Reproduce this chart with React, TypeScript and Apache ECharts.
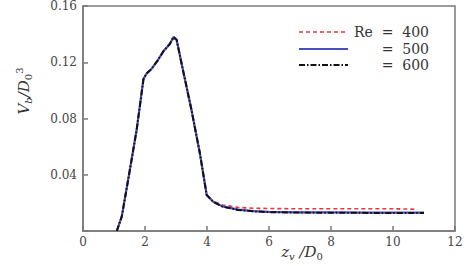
import React, { useEffect, useRef } from "react";
import * as echarts from "echarts";

const xCurve = [1.09, 1.25, 1.5, 1.73, 1.95, 2.05, 2.2, 2.4, 2.6, 2.8, 2.92, 3.02, 3.2, 3.5, 3.77, 3.99, 4.2, 4.5, 5, 5.5, 6, 7, 8, 9, 10, 10.7, 11];
const yRe400 = [0, 0.0102, 0.042, 0.0718, 0.108, 0.112, 0.115, 0.121, 0.128, 0.133, 0.137, 0.136, 0.117, 0.086, 0.0553, 0.0256, 0.0212, 0.0185, 0.0168, 0.0162, 0.016, 0.0158, 0.0158, 0.0158, 0.0158, 0.0155, null];
const yRe500 = [0, 0.0102, 0.042, 0.0718, 0.108, 0.112, 0.115, 0.121, 0.128, 0.133, 0.138, 0.136, 0.117, 0.086, 0.0553, 0.0256, 0.0208, 0.0175, 0.0152, 0.0142, 0.0136, 0.0133, 0.0132, 0.0131, 0.013, 0.013, 0.013];
const yRe600 = [0, 0.0102, 0.042, 0.0718, 0.108, 0.112, 0.115, 0.121, 0.128, 0.133, 0.138, 0.136, 0.117, 0.086, 0.0553, 0.0256, 0.0208, 0.0173, 0.015, 0.014, 0.0134, 0.0131, 0.013, 0.0129, 0.0128, 0.0128, 0.0128];
const xTicks = [0, 2, 4, 6, 8, 10, 12];
const yTicks = [0, 0.04, 0.08, 0.12, 0.16];
const legendLabels = ["Re  =  400", "=  500", "=  600"];

const serif = "DejaVu Serif";

export default function App() {
  const ref = useRef<HTMLDivElement>(null);
  useEffect(() => {
    if (!ref.current) return;
    const chart = echarts.init(ref.current, null, { renderer: "svg" });
    const pair = (ys: (number | null)[]) => xCurve.map((x, i) => [x, ys[i]]);
    const axisColor = "#7a7a7a";
    const labelColor = "#444";
    chart.setOption({
      animation: false,
      backgroundColor: "#fff",
      textStyle: { fontFamily: serif },
      grid: { left: 83, top: 6, right: 21, bottom: 35 },
      xAxis: {
        type: "value",
        min: xTicks[0],
        max: xTicks[xTicks.length - 1],
        interval: 2,
        axisLine: { show: true, lineStyle: { color: axisColor, width: 1.5 } },
        axisTick: { show: true, inside: true, length: 5, lineStyle: { color: axisColor, width: 1.5 } },
        axisLabel: { color: labelColor, fontFamily: serif, fontSize: 12, margin: 5, formatter: (v: number) => String(v) },
        splitLine: { show: false },
      },
      yAxis: {
        type: "value",
        min: yTicks[0],
        max: yTicks[yTicks.length - 1],
        interval: 0.04,
        axisLine: { show: true, lineStyle: { color: axisColor, width: 1.5 } },
        axisTick: { show: true, inside: true, length: 5, lineStyle: { color: axisColor, width: 1.5 } },
        axisLabel: {
          color: labelColor,
          fontFamily: serif,
          fontSize: 12,
          margin: 6,
          formatter: (v: number) => (v === 0 ? "" : v.toFixed(2)),
        },
        splitLine: { show: false },
      },
      series: [
        {
          type: "line",
          name: "400",
          data: pair(yRe400),
          showSymbol: false,
          lineStyle: { color: "#e0393e", width: 1.6, type: [4, 3] },
          z: 2,
        },
        {
          type: "line",
          name: "500",
          data: pair(yRe500),
          showSymbol: false,
          lineStyle: { color: "#4a4fc0", width: 2.2, type: "solid" },
          z: 3,
        },
        {
          type: "line",
          name: "600",
          data: pair(yRe600),
          showSymbol: false,
          lineStyle: { color: "#111", width: 2, type: [6, 2, 1.5, 2] },
          z: 4,
        },
      ],
      graphic: [
        { type: "rect", shape: { x: 83, y: 6, width: 372, height: 225 }, style: { fill: "none", stroke: axisColor, lineWidth: 1.5 }, silent: true, z: 1 },
        { type: "line", shape: { x1: 299, y1: 32, x2: 348, y2: 32 }, style: { stroke: "#e0393e", lineWidth: 1.6, lineDash: [4, 3] } },
        { type: "line", shape: { x1: 299, y1: 49, x2: 348, y2: 49 }, style: { stroke: "#4a4fc0", lineWidth: 2.2 } },
        { type: "line", shape: { x1: 299, y1: 65, x2: 348, y2: 65 }, style: { stroke: "#111", lineWidth: 1.8, lineDash: [6, 2, 1.5, 2] } },
        ...legendLabels.map((t, i) => ({
          type: "text",
          x: 429,
          y: [32, 49, 65][i],
          style: { text: t, fill: "#333", fontFamily: serif, fontSize: 14, align: "right", verticalAlign: "middle" },
        })),
        {
          type: "text",
          x: 24,
          y: 91,
          rotation: Math.PI / 2,
          style: {
            text: "{i|V}{s|b}{i|/D}{n|0}{p|3}",
            align: "center",
            verticalAlign: "middle",
            fill: "#333",
            fontFamily: serif,
            rich: {
              i: { fontFamily: serif, fontStyle: "italic", fontSize: 15, fill: "#333" },
              s: { fontFamily: serif, fontStyle: "italic", fontSize: 10, fill: "#333", padding: [8, 0, 0, 0] },
              n: { fontFamily: serif, fontSize: 10, fill: "#333", padding: [8, 0, 0, 0] },
              p: { fontFamily: serif, fontSize: 10, fill: "#333", padding: [0, 0, 10, 0] },
            },
          },
        },
        {
          type: "text",
          x: 302,
          y: 252,
          style: {
            text: "{i|z}{s|v}{i| /D}{n|0}",
            align: "center",
            verticalAlign: "middle",
            fill: "#333",
            fontFamily: serif,
            rich: {
              i: { fontFamily: serif, fontStyle: "italic", fontSize: 15, fill: "#333" },
              s: { fontFamily: serif, fontStyle: "italic", fontSize: 10, fill: "#333", padding: [8, 0, 0, 0] },
              n: { fontFamily: serif, fontSize: 10, fill: "#333", padding: [8, 0, 0, 0] },
            },
          },
        },
      ],
    });
    return () => chart.dispose();
  }, []);
  return <div ref={ref} style={{ width: 476, height: 266, position: "absolute", left: 0, top: 0 }} />;
}
